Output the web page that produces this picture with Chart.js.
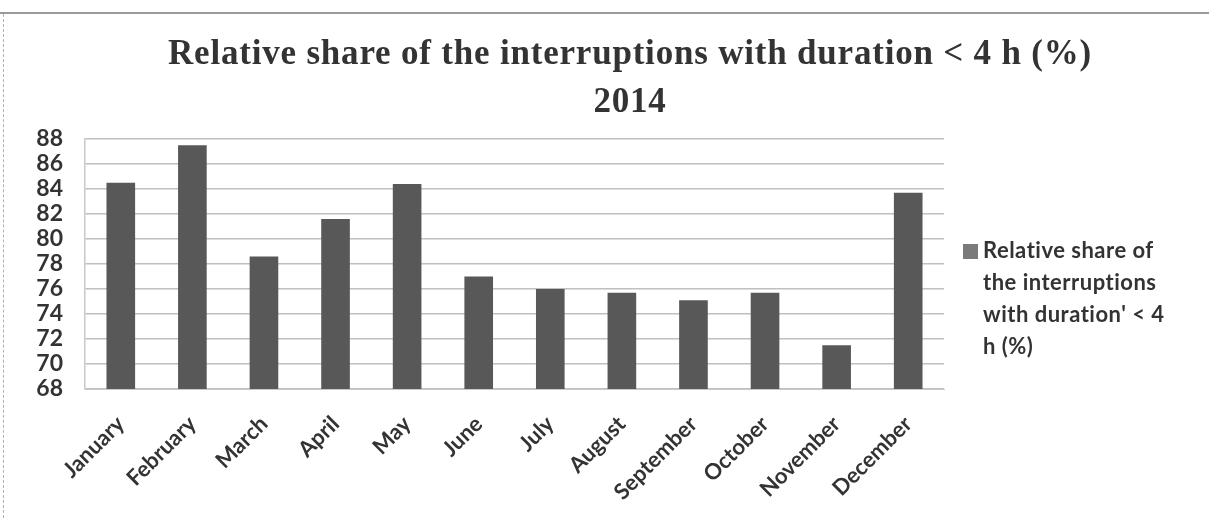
<!DOCTYPE html>
<html>
<head>
<meta charset="utf-8">
<script src="https://cdn.jsdelivr.net/npm/chart.js@4/dist/chart.umd.min.js"></script>
<style>
  html, body { margin: 0; padding: 0; background: #fff; }
  .frame { position: relative; width: 1209px; height: 518px; overflow: hidden; }
  .frame__top { position: absolute; left: 0; top: 12px; width: 1209px; border-top: 2px solid #9a9a9a; }
  .frame__left { position: absolute; left: 3px; top: 14px; height: 504px; border-left: 1px dashed #b0b0b0; }
  .title { position: absolute; left: 0; top: 29px; width: 1260px; text-align: center;
    font-family: 'Liberation Serif', serif; font-weight: bold; font-size: 35px; line-height: 48px;
    letter-spacing: 0.8px; color: #333; }
  .legend { position: absolute; left: 963px; top: 234px; font-family: Lato, 'Open Sans', sans-serif;
    font-size: 22px; font-weight: bold; line-height: 32px; letter-spacing: 0.5px; color: #333; }
  .legend__box { position: absolute; left: 0; top: 10px; width: 15px; height: 15px; background: #7a7a7a; }
  .legend__text { margin-left: 20px; }
  canvas { position: absolute; left: 0; top: 0; }
</style>
</head>
<body>
<div class="frame">
  <div class="frame__top"></div>
  <div class="frame__left"></div>
  <canvas id="chart" width="1209" height="518"></canvas>
  <div class="title">Relative share of the interruptions with duration &lt; 4 h (%)<br>2014</div>
  <div class="legend">
    <span class="legend__box"></span>
    <div class="legend__text">Relative share of<br>the interruptions<br>with duration' &lt; 4<br>h (%)</div>
  </div>
</div>
<script>
const months = ['January', 'February', 'March', 'April', 'May', 'June',
  'July', 'August', 'September', 'October', 'November', 'December'];
const shareUnder4h = [84.5, 87.5, 78.6, 81.6, 84.4, 77.0, 76.0, 75.7, 75.1, 75.7, 71.5, 83.7];
const seriesName = "Relative share of the interruptions with duration' < 4 h (%)";

new Chart(document.getElementById('chart'), {
  type: 'bar',
  data: {
    labels: months,
    datasets: [{
      label: seriesName,
      data: shareUnder4h,
      backgroundColor: '#585858',
      categoryPercentage: 1,
      barPercentage: 0.4
    }]
  },
  options: {
    responsive: false,
    animation: false,
    layout: { padding: { left: 0, top: 139, right: 265, bottom: 2 } },
    plugins: {
      legend: { display: false },
      title: { display: false },
      tooltip: { enabled: false }
    },
    scales: {
      x: {
        afterFit: (scale) => { scale.height = 127; },
        grid: { display: false },
        border: { color: '#c8c8c8', width: 1 },
        ticks: {
          color: '#333',
          minRotation: 45,
          maxRotation: 45,
          autoSkip: false,
          padding: 14,
          font: { family: "Lato, 'Open Sans', sans-serif", size: 22, weight: 'bold' }
        }
      },
      y: {
        min: 68,
        max: 88,
        afterFit: (scale) => { scale.width = 85; },
        grid: { color: '#c0c0c0', lineWidth: 1.5, drawTicks: false },
        border: { color: '#c8c8c8', width: 1.5 },
        ticks: {
          stepSize: 2,
          autoSkip: false,
          color: '#333',
          padding: 22,
          font: { family: "Lato, 'Open Sans', sans-serif", size: 23, weight: 'bold' }
        }
      }
    }
  }
});
</script>
</body>
</html>
